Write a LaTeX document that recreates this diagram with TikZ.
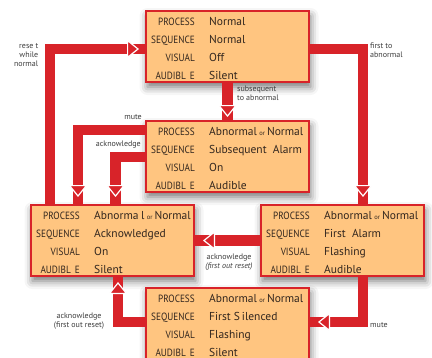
\documentclass[tikz,border=0pt]{standalone}
\usepackage{fontspec}
\setmainfont{PT Sans}
\newfontfamily\lblfont{PT Sans}[FakeStretch=0.88]
\usetikzlibrary{calc,arrows.meta,decorations.markings,shadows.blur}
\definecolor{bandred}{RGB}{216,35,41}
\definecolor{boxfill}{RGB}{255,197,128}
\definecolor{txt}{RGB}{50,38,30}
\definecolor{annot}{RGB}{60,60,60}
\newcommand\orsmall{\hspace{2.5pt}{\fontsize{6.5}{7}\selectfont or}\hspace{2pt}}
\tikzset{
 statebox/.style={draw=bandred, line width=2pt, fill=boxfill, minimum width=163pt, minimum height=71pt, inner sep=0pt,
   blur shadow={shadow xshift=1.5pt, shadow yshift=-5pt, shadow blur radius=8pt, shadow opacity=55}},
 lbl/.style={font=\lblfont\fontsize{10.5}{11}\selectfont, text=txt, inner sep=0pt},
 val/.style={font=\fontsize{11.5}{13}\selectfont, text=txt, inner sep=0pt},
 anno/.style={font=\fontsize{8}{8.8}\selectfont, text=annot, inner sep=0pt},
 tipx/.tip={Triangle[width=19pt,length=12pt,line width=1.2pt,fill=bandred,color=white]},
 band/.style={draw=bandred, line width=10.5pt, postaction={decorate},
   decoration={markings, mark=at position #1 with {\arrow{tipx}}}},
}
\newcommand\srow[4]{%
 \node[lbl, anchor=base east] (#1-l#2) at ($(#1.north west)+(50,15.5+18*#2)$) {#3};
 \node[val, anchor=base west] (#1-v#2) at ($(#1.north west)+(64,15.5+18*#2)$) {#4};}
\newcommand\statebox[6]{%
 \node[statebox] (#1) at (#2) {};
 \srow{#1}{0}{PROCESS}{#3}
 \srow{#1}{1}{SEQUENCE}{#4}
 \srow{#1}{2}{VISUAL}{#5}
 \srow{#1}{3}{AUDIBL\hspace{4pt}E}{#6}}
\begin{document}
\begin{tikzpicture}[x=1pt,y=-1pt]
\useasboundingbox (0,0) rectangle (432,357);
\clip (0,0) rectangle (432,357);
\statebox{T}{227.5,46.5}{Normal}{Normal}{Off}{Silent}
\statebox{M}{227.5,156.5}{Abnormal\orsmall Normal}{Subsequent~~Alarm}{On}{Audible}
\statebox{L}{112.5,240.5}{Abnorma\hspace{2.5pt}l\orsmall Normal}{Acknowledged}{On}{Silent}
\statebox{R}{342.5,240.5}{Abnormal\orsmall Normal}{First~~Alarm}{Flashing}{Audible}
\statebox{B}{227.5,323.5}{Abnormal\orsmall Normal}{First S\,ilenced}{Flashing}{Silent}

\coordinate (c1) at (50,49);
\draw[band=-6pt] (L.north -| c1) -- (c1) -- (T.west |- c1);
\coordinate (c2) at (363,49);
\draw[band=-7pt] (T.east |- c2) -- (c2) -- (R.north -| c2);
\draw[band=-3pt] (T.south) -- (M.north);
\coordinate (c4) at (78,130);
\draw[band=-7pt] (M.west |- c4) -- (c4) -- (L.north -| c4);
\coordinate (c5) at (115.5,157);
\draw[band=-7pt] (M.west |- c5) -- (c5) -- (L.north -| c5);
\draw[band=-8pt] (R.west) -- (L.east);
\coordinate (c7) at (363,322);
\draw[band=-8pt] (R.south -| c7) -- (c7) -- (B.east |- c7);
\coordinate (c8) at (118,322);
\draw[band=-5pt] (B.west |- c8) -- (c8) -- (L.south -| c8);

\node[anno, align=right, anchor=north east] (a1) at (38.5,43.5) {rese t\\while\\normal};
\node[anno, align=left, anchor=north west] (a2) at (370,42.5) {first to\\abnormal};
\node[anno, align=left, anchor=north west] (a3) at (237,85.5) {subsequent\\to abnormal};
\node[anno, anchor=north east] (a4) at (142,114) {mute};
\node[anno, anchor=north east] (a5) at (141,141) {acknowledge};
\node[anno, align=center, anchor=north] (a6) at (229,253.5) {acknowledge\\\itshape(first out reset)};
\node[anno, anchor=north west] (a7) at (370,322) {mute};
\node[anno, align=center, anchor=north] (a8) at (79,312.5) {acknowledge\\(first out reset)};
\end{tikzpicture}
\end{document}
